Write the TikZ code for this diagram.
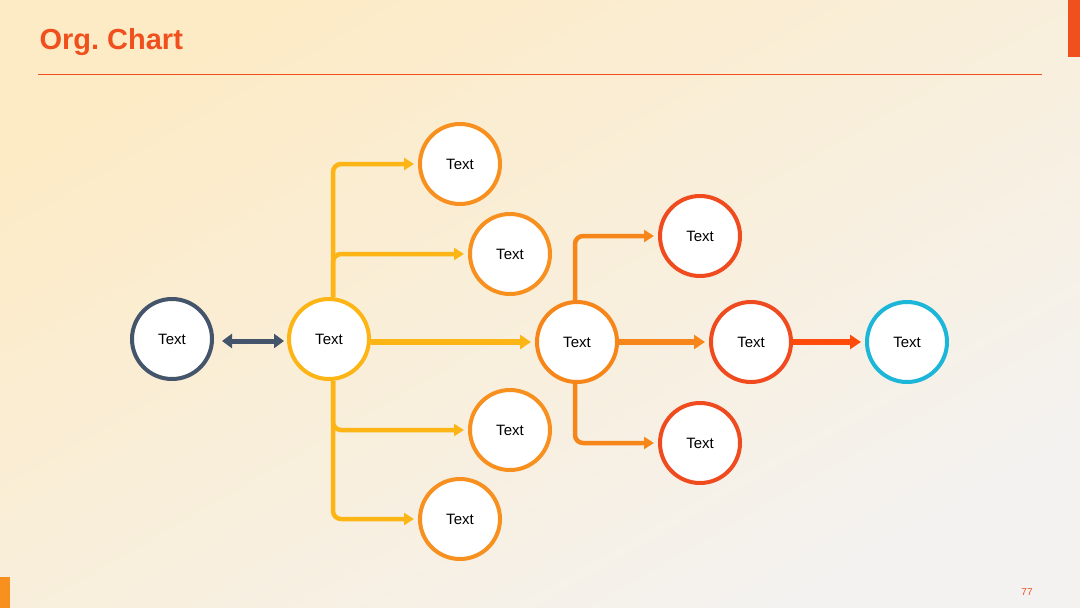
\documentclass[tikz,border=0pt]{standalone}
\usepackage{fontspec}
\setmainfont{Liberation Sans}
\usetikzlibrary{arrows.meta,calc}
\definecolor{bgA}{HTML}{FDEBC6}
\definecolor{bgB}{HTML}{F4F2F0}
\definecolor{ttl}{HTML}{F0501E}
\definecolor{slate}{HTML}{44546A}
\definecolor{yel}{HTML}{FDB515}
\definecolor{org}{HTML}{F7901E}
\definecolor{org2}{HTML}{F7861A}
\definecolor{red1}{HTML}{F04A1F}
\definecolor{red2}{HTML}{FF4A0A}
\definecolor{cyan1}{HTML}{1CB6D9}
\begin{document}
\begin{tikzpicture}[x=1pt,y=-1pt,
  circ/.style={circle,draw=#1,line width=4pt,fill=white,minimum size=80pt,inner sep=0pt,font=\fontsize{15}{15}\selectfont},
  conn/.style={draw=#1,line width=4.5pt,rounded corners=8pt,-{Triangle[length=10pt,width=12pt]}}]
\useasboundingbox (0,0) rectangle (1080,608);
\shade[left color=bgA,right color=bgB,shading angle=30] (0,0) rectangle (1080,608);
\node[anchor=west,text=ttl,font=\bfseries\fontsize{29}{29}\selectfont] (title) at (36,42) {Org.~Chart};
\draw[ttl,line width=0.8pt] (38,74) -- (1042,74);
\fill[ttl] (1068,0) rectangle (1080,57);
\fill[org] (0,577) rectangle (10,608);
\node[text=ttl,font=\fontsize{10}{10}\selectfont] (pg) at (1027,592) {77};

\node[circ=slate] (A) at (172,339) {Text};
\node[circ=yel] (B) at (329,339) {Text};
\node[circ=org] (T1) at (460,164) {Text};
\node[circ=org] (T2) at (510,254) {Text};
\node[circ=org] (T3) at (510,430) {Text};
\node[circ=org] (T4) at (460,519) {Text};
\node[circ=org2] (C) at (577,342) {Text};
\node[circ=red1] (R1) at (700,236) {Text};
\node[circ=red1] (R2) at (751,342) {Text};
\node[circ=red1] (R3) at (700,443) {Text};
\node[circ=cyan1] (D) at (907,342) {Text};

\draw[slate,line width=5pt,{Triangle[length=10pt,width=14pt]}-{Triangle[length=10pt,width=14pt]}] ($(A.east)+(8,2)$) -- ($(B.west)+(-3,2)$);
\draw[conn=yel] ($(B.north)+(4,0)$) |- ($(T1.west)+(-4,0)$);
\draw[conn=yel] ($(B.north)+(4,0)$) |- ($(T2.west)+(-4,0)$);
\draw[conn=yel] ($(B.south)+(4,0)$) |- ($(T3.west)+(-4,0)$);
\draw[conn=yel] ($(B.south)+(4,0)$) |- ($(T4.west)+(-4,0)$);
\draw[conn=yel,line width=6pt,-{Triangle[length=11pt,width=14pt]}] ($(B.east)+(0,3)$) -- ($(C.west)+(-4,0)$);
\draw[conn=org2] ($(C.north)+(-2,0)$) |- ($(R1.west)+(-4,0)$);
\draw[conn=org2] ($(C.south)+(-2,0)$) |- ($(R3.west)+(-4,0)$);
\draw[conn=org2,line width=6pt,-{Triangle[length=11pt,width=14pt]}] (C.east) -- ($(R2.west)+(-4,0)$);
\draw[conn=red2,line width=6pt,-{Triangle[length=11pt,width=14pt]}] (R2.east) -- ($(D.west)+(-4,0)$);
\end{tikzpicture}
\end{document}
